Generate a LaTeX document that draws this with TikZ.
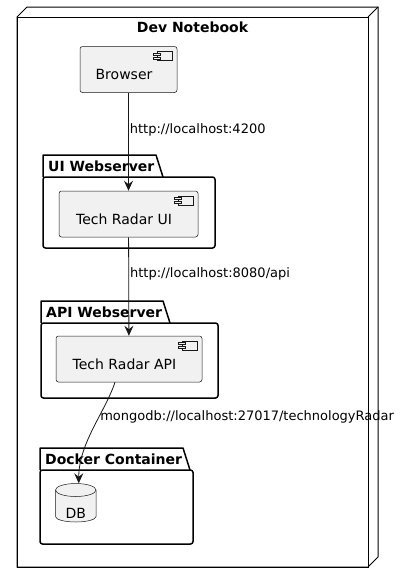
\documentclass[tikz,border=0pt]{standalone}
\usepackage{fontspec}
\setmainfont{DejaVu Sans}
\usetikzlibrary{arrows.meta}
\definecolor{umlfill}{HTML}{F1F1F1}
\definecolor{umlline}{HTML}{181818}
\newcommand{\comptext}{\fontsize{14}{16}\selectfont}
\newcommand{\pkgtext}{\fontsize{14}{16}\selectfont\bfseries}
\newcommand{\linktext}{\fontsize{13}{15}\selectfont}

\tikzset{
  comp/.style={draw=umlline, line width=0.5pt, fill=umlfill, rounded corners=2.5pt,
    minimum width=#1, minimum height=46pt, inner sep=0pt},
  compicon/.pic={
    \draw[umlline, line width=0.5pt, fill=umlfill] (-15,0) rectangle (0,9);
    \draw[umlline, line width=0.5pt, fill=umlfill] (-19,1.5) rectangle (-12,3.5);
    \draw[umlline, line width=0.5pt, fill=umlfill] (-19,5.5) rectangle (-12,7.5);
  },
  pkg/.style={draw=black, line width=1.5pt, line join=round},
  link/.style={draw=umlline, line width=0.8pt, -{Stealth[length=10pt,width=9pt,inset=3.5pt]}},
  lbl/.style={font=\linktext, anchor=west, inner sep=1pt}
}

\begin{document}
\begin{tikzpicture}[x=1pt, y=-1pt]
\useasboundingbox (0,0) rectangle (400,584);

% node: Dev Notebook
\draw[black, line width=1pt, fill=white] (17,17) -- (27,7) -- (378,7) -- (378,557) -- (368,567)
  -- (17,567) -- cycle;
\draw[black, line width=1pt] (17,17) rectangle (368,567);
\draw[black, line width=1pt] (368,17) -- (378,7);
\node[font=\pkgtext] (devnb) at (192.5,27) {Dev Notebook};

% packages
\draw[pkg, fill=white] (43,177) -- (43,155) -- (156,155) -- (163,177);
\draw[pkg, rounded corners=2.5pt] (43,177) rectangle (215,248);
\node[font=\pkgtext, anchor=west, inner sep=0pt] (uiws) at (48,166) {UI Webserver};

\draw[pkg, fill=white] (41,323) -- (41,301) -- (163,301) -- (170,323);
\draw[pkg, rounded corners=2.5pt] (41,323) rectangle (218,398);
\node[font=\pkgtext, anchor=west, inner sep=0pt] (apiws) at (46,312) {API Webserver};

\draw[pkg, fill=white] (40,470) -- (40,448) -- (183,448) -- (190,470);
\draw[pkg, rounded corners=2.5pt] (40,470) rectangle (193,544);
\node[font=\pkgtext, anchor=west, inner sep=0pt] (docker) at (45,459) {Docker Container};

% components
\node[comp=97pt, label={[font=\comptext, xshift=-4.5pt, yshift=-5pt]center:Browser}]
  (browser) at (128.5,69.5) {};
\pic at ([shift={(-5,5)}]browser.north east) {compicon};

\node[comp=139pt, label={[font=\comptext, xshift=-4.5pt, yshift=-5pt]center:Tech Radar UI}]
  (trui) at (128.5,214) {};
\pic at ([shift={(-5,5)}]trui.north east) {compicon};

\node[comp=146pt, label={[font=\comptext, xshift=-4.5pt, yshift=-5pt]center:Tech Radar API}]
  (trapi) at (129,359) {};
\pic at ([shift={(-5,5)}]trapi.north east) {compicon};

% database
\draw[umlline, line width=0.5pt, fill=umlfill] (55.5,490) -- (55.5,516.5)
  arc[start angle=180, end angle=0, x radius=20.25, y radius=5.5] -- (96,490)
  arc[start angle=0, end angle=-180, x radius=20.25, y radius=6.5] -- cycle;
\draw[umlline, line width=0.5pt] (55.5,490) arc[start angle=180, end angle=0, x radius=20.25, y radius=6.5];
\node[minimum width=40.5pt, minimum height=38.5pt, inner sep=0pt,
  label={[font=\comptext, yshift=-11pt]center:DB}] (db) at (75.75,502.75) {};

% links
\draw[link] (browser) -- (trui) node[lbl, pos=.38] {http://localhost:4200};
\draw[link] (trui) -- (trapi) node[lbl, pos=.37] {http://localhost:8080/api};
\draw[link] ([xshift=-14pt]trapi.south) .. controls +(-10,30) and +(0,-40) .. ([xshift=3pt]db.north)
  node[lbl, pos=.38] {mongodb://localhost:27017/technologyRadar};
\end{tikzpicture}
\end{document}
